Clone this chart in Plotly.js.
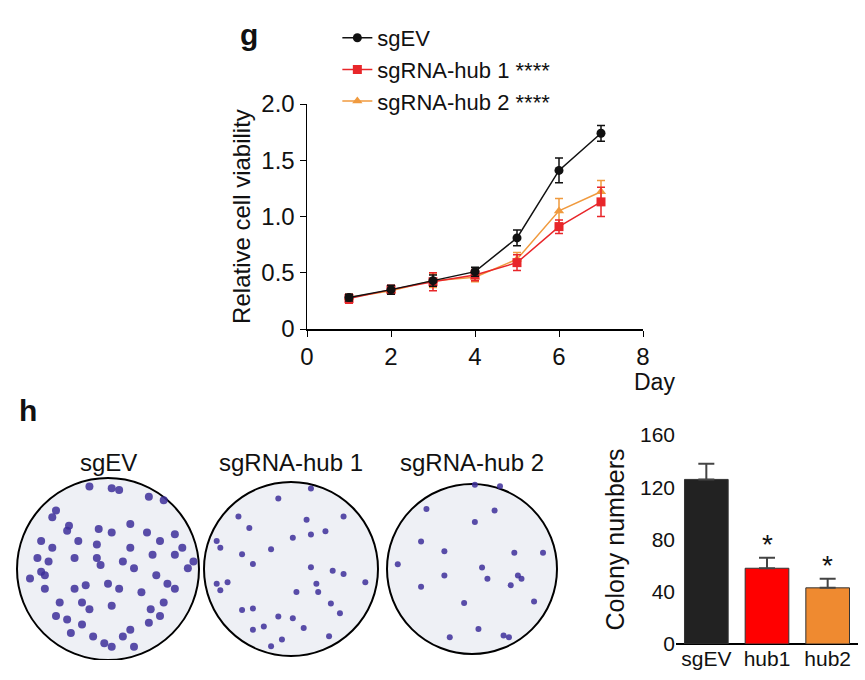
<!DOCTYPE html>
<html>
<head>
<meta charset="utf-8">
<script src="https://cdn.plot.ly/plotly-3.0.1.min.js"></script>
<style>body{margin:0;background:#fff}#chart{width:865px;height:680px}</style>
</head>
<body>
<div id="chart"></div>
<script>
// panel g: viability curves
const days = [1, 2, 3, 4, 5, 6, 7];
const evMean = [0.28, 0.35, 0.43, 0.51, 0.81, 1.41, 1.74];
const evErr = [0.03, 0.04, 0.05, 0.04, 0.07, 0.11, 0.07];
const hub1Mean = [0.27, 0.35, 0.42, 0.48, 0.59, 0.91, 1.13];
const hub1Err = [0.04, 0.04, 0.08, 0.05, 0.07, 0.06, 0.13];
const hub2Mean = [0.28, 0.34, 0.43, 0.46, 0.62, 1.05, 1.22];
const hub2Err = [0.03, 0.03, 0.06, 0.04, 0.06, 0.11, 0.10];

// panel h: colony counts
const groups = ["sgEV", "hub1", "hub2"];
const colonies = [126, 58, 43];
const colonyErr = [12, 8, 7];

const plateLabels = ["sgEV", "sgRNA-hub 1", "sgRNA-hub 2"];
const plateCx = [108, 291, 472];
const plateR = [91, 87, 85];
const plate1Spots = [[300,265],[320,270],[240,260],[400,290],[440,300],[150,330],[140,350],[185,375],[180,390],[265,385],[300,395],[350,370],[395,395],[430,420],[470,400],[490,440],[520,480],[505,500],[110,420],[140,440],[100,470],[120,520],[110,510],[200,470],[260,470],[270,490],[330,480],[360,500],[410,460],[420,520],[450,545],[470,560],[440,600],[405,620],[380,570],[320,560],[290,545],[230,550],[200,560],[160,600],[150,640],[180,650],[220,665],[190,690],[250,700],[280,720],[300,730],[330,700],[350,680],[240,620],[300,610],[80,530],[130,480],[260,430],[350,440],[220,600],[400,660],[360,730],[430,640],[470,460],[210,420],[120,560]];
const plate2Spots = [[760,290],[850,260],[940,345],[650,345],[838,355],[800,410],[850,400],[890,390],[740,445],[690,490],[660,460],[590,550],[620,545],[600,570],[910,510],[1000,545],[865,550],[870,575],[810,575],[905,610],[930,640],[660,630],[690,625],[760,650],[800,655],[690,690],[720,680],[830,685],[770,720],[900,710],[740,740],[590,420],[600,440],[680,380],[850,500],[940,520]];
const plate3Spots = [[1165,320],[1300,245],[1355,325],[1300,360],[1150,420],[1215,450],[1410,455],[1490,455],[1085,490],[1320,500],[1335,535],[1215,525],[1420,525],[1430,535],[1400,555],[1270,610],[1465,605],[1310,690],[1230,715],[1380,710],[1395,715],[1150,560],[1370,250]];
const spotCentres = [[290, 502, 245, 267], [795, 505, 240, 265], [1292, 505, 237, 262]];
const plateCy = 91;

const font = "Liberation Sans, Arial, sans-serif";
const colEV = "#111111", colH1 = "#e8262a", colH2 = "#f09a3e";

function lineTrace(name, y, err, color, symbol) {
  return {
    x: days, y: y, name: name, type: "scatter", mode: "lines+markers",
    line: { color: color, width: 1.5 },
    marker: { color: color, symbol: symbol, size: 9 },
    error_y: { type: "data", array: err, color: color, thickness: 1.5, width: 4 },
    xaxis: "x", yaxis: "y",
  };
}

const traces = [
  lineTrace("sgRNA-hub 2 ****", hub2Mean, hub2Err, colH2, "triangle-up"),
  lineTrace("sgRNA-hub 1 ****", hub1Mean, hub1Err, colH1, "square"),
  lineTrace("sgEV", evMean, evErr, colEV, "circle"),
];

[plate1Spots, plate2Spots, plate3Spots].forEach((spots, i) => {
  const [zx, zy, zrx, zry] = spotCentres[i];
  traces.push({
    type: "scatter", mode: "markers", showlegend: false, hoverinfo: "skip",
    x: spots.map((s) => plateCx[i] + (s[0] - zx) / zrx * plateR[i]),
    y: spots.map((s) => plateCy + (zy - s[1]) / zry * plateR[i]),
    marker: { color: "#3d2f9a", size: i === 0 ? 8 : 6, opacity: 0.85 },
    xaxis: "x3", yaxis: "y3",
  });
});

traces.push({
  type: "bar", x: groups, y: colonies, showlegend: false, width: 0.72,
  marker: { color: ["#222222", "#ff0000", "#ef8a30"], line: { color: "#333", width: 1 } },
  error_y: { type: "data", array: colonyErr, symmetric: false, arrayminus: [0, 0, 0], color: "#444", thickness: 2, width: 8 },
  xaxis: "x2", yaxis: "y2",
});

const shapes = plateCx.map((cx, i) => ({
  type: "circle", xref: "x3", yref: "y3",
  x0: cx - plateR[i], x1: cx + plateR[i], y0: plateCy - plateR[i], y1: plateCy + plateR[i],
  line: { color: "#000", width: 2 }, fillcolor: "#eef0f5", layer: "below",
}));

const annotations = [
  { text: "<b>g</b>", x: 238 / 865, y: 1 - 16 / 680, xref: "paper", yref: "paper", showarrow: false, font: { size: 30 } },
  { text: "<b>h</b>", x: 17 / 865, y: 1 - 410 / 680, xref: "paper", yref: "paper", showarrow: false, font: { size: 30 } },
  { text: "Day", x: 677 / 865, y: 1 - 382 / 680, xref: "paper", yref: "paper", showarrow: false, font: { size: 23 } },
].concat(plateLabels.map((t, i) => ({
  text: t, x: plateCx[i], y: 198, xref: "x3", yref: "y3", showarrow: false, font: { size: 24 },
}))).concat([1, 2].map((i) => ({
  text: "*", x: groups[i], y: colonies[i] + colonyErr[i] + 10, xref: "x2", yref: "y2", showarrow: false, font: { size: 28 },
})));

const layout = {
  width: 865, height: 680, margin: { l: 0, r: 0, t: 0, b: 0 },
  paper_bgcolor: "#fff", plot_bgcolor: "rgba(0,0,0,0)",
  font: { family: font, color: "#111", size: 22 },
  showlegend: true,
  legend: { x: 0.39, y: 0.975, xanchor: "left", yanchor: "top", traceorder: "reversed", font: { size: 22 }, tracegroupgap: 0, itemwidth: 30, bgcolor: "rgba(0,0,0,0)" },
  xaxis: {
    domain: [307 / 865, 643 / 865], range: [0, 8], dtick: 2, showgrid: false, zeroline: false,
    showline: true, linecolor: "#000", linewidth: 1.5, ticks: "outside", ticklen: 6, tickcolor: "#000",
    tickfont: { size: 24 }, anchor: "y",
  },
  yaxis: {
    domain: [1 - 329 / 680, 1 - 104 / 680], range: [0, 2], tickvals: [0, 0.5, 1, 1.5, 2], ticktext: ["0", "0.5", "1.0", "1.5", "2.0"],
    showgrid: false, zeroline: false, showline: true, linecolor: "#000", linewidth: 1.5, ticks: "outside", ticklen: 6, tickcolor: "#000",
    tickfont: { size: 24 }, title: { text: "Relative cell viability", font: { size: 24 }, standoff: 4 }, anchor: "x",
  },
  xaxis2: {
    domain: [676 / 865, 858 / 865], anchor: "y2", showgrid: false, showline: false, ticks: "", tickfont: { size: 21 },
  },
  yaxis2: {
    domain: [1 - 644 / 680, 1 - 435 / 680], anchor: "x2", range: [0, 160], dtick: 40, showgrid: false,
    zeroline: true, zerolinecolor: "#000", zerolinewidth: 2, showline: false, ticks: "", tickfont: { size: 21 },
    title: { text: "Colony numbers", font: { size: 25 }, standoff: 8 },
  },
  xaxis3: { domain: [0, 565 / 865], range: [0, 565], visible: false, anchor: "y3" },
  yaxis3: { domain: [1 - 660 / 680, 1 - 440 / 680], range: [0, 220], visible: false, anchor: "x3" },
  shapes: shapes,
  annotations: annotations,
};

Plotly.newPlot("chart", traces, layout, { displayModeBar: false, staticPlot: true });
</script>
</body>
</html>
